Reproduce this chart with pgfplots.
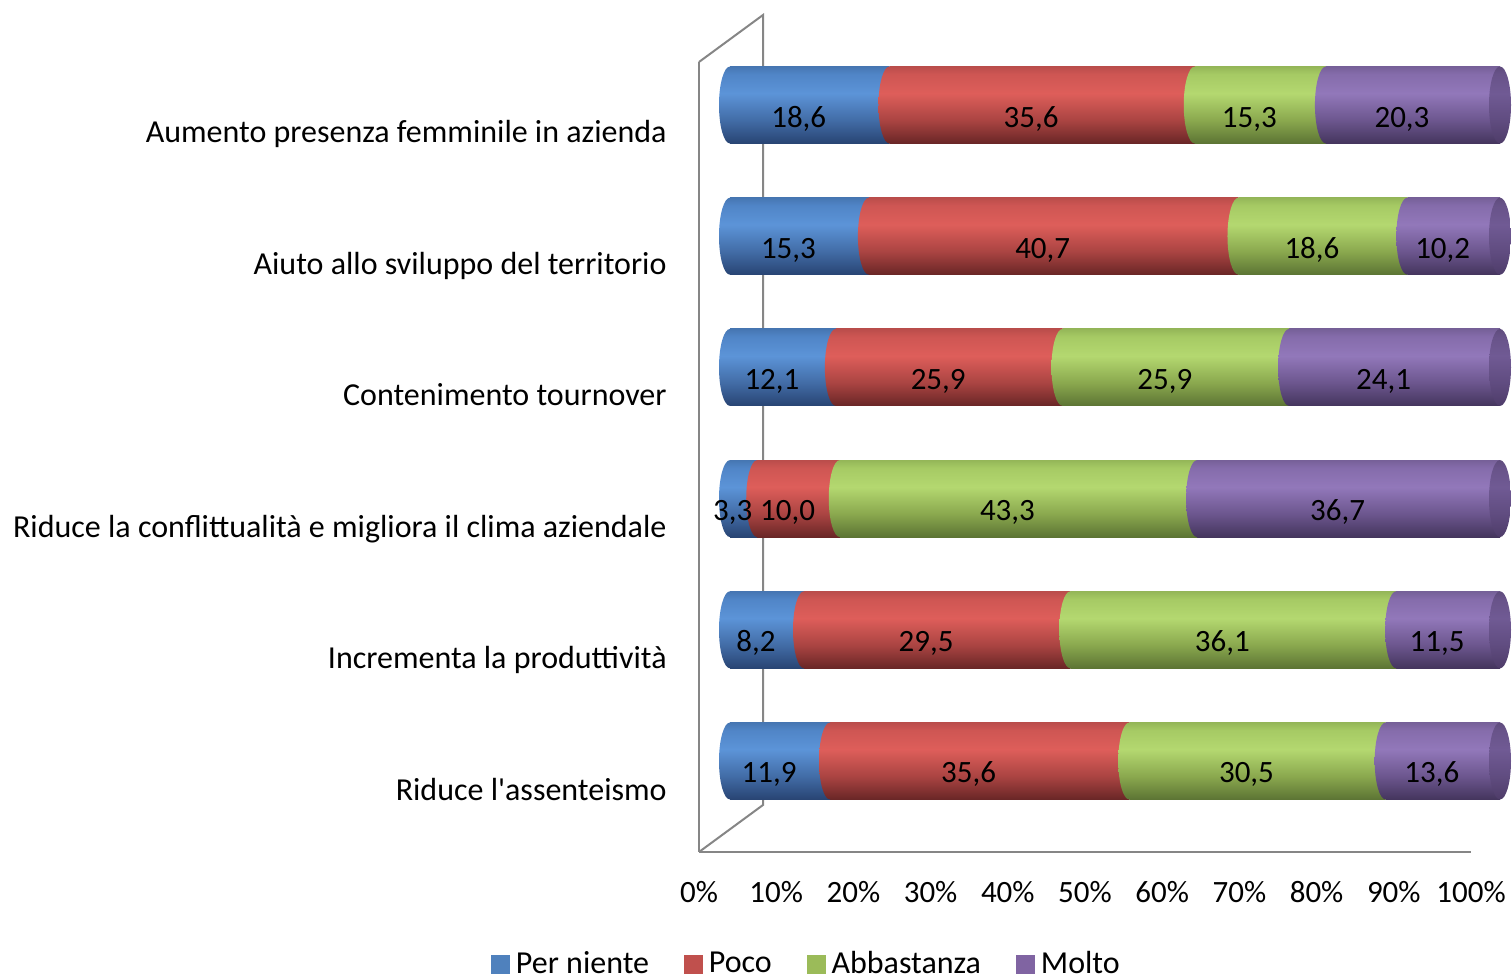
\documentclass[border=0pt]{standalone}
\usepackage{pgfplots}
\pgfplotsset{compat=1.18}
\usepackage{pgfplotstable}
\usetikzlibrary{shapes.geometric}
\usepackage{fontspec}
\setmainfont{Carlito}
\newcommand\cf{\fontsize{15.5pt}{18pt}\selectfont}
\newcommand\cfl{\fontsize{16pt}{19pt}\selectfont}

\definecolor{lBlue}{RGB}{79,129,189}
\definecolor{lRed}{RGB}{192,80,77}
\definecolor{lGreen}{RGB}{155,187,89}
\definecolor{lPurple}{RGB}{128,100,162}
\definecolor{frameGray}{RGB}{134,134,134}

\definecolor{B0}{RGB}{40,68,115}\definecolor{B1}{RGB}{66,108,166}\definecolor{B2}{RGB}{92,148,216}\definecolor{B3}{RGB}{80,133,199}\definecolor{B4}{RGB}{70,118,178}
\definecolor{R0}{RGB}{105,38,38}\definecolor{R1}{RGB}{170,68,66}\definecolor{R2}{RGB}{222,94,90}\definecolor{R3}{RGB}{206,86,83}\definecolor{R4}{RGB}{186,77,75}
\definecolor{G0}{RGB}{92,116,52}\definecolor{G1}{RGB}{138,168,78}\definecolor{G2}{RGB}{180,216,112}\definecolor{G3}{RGB}{166,202,100}\definecolor{G4}{RGB}{148,182,88}
\definecolor{P0}{RGB}{68,53,93}\definecolor{P1}{RGB}{108,86,142}\definecolor{P2}{RGB}{146,120,186}\definecolor{P3}{RGB}{133,108,171}\definecolor{P4}{RGB}{118,96,152}
\definecolor{C0}{RGB}{78,60,105}\definecolor{C1}{RGB}{96,76,128}\definecolor{C2}{RGB}{112,90,148}\definecolor{C3}{RGB}{104,83,137}\definecolor{C4}{RGB}{95,76,125}

\newcommand\cylshade[6]{\pgfdeclareverticalshading{#1}{100bp}{color(0bp)=(#2); color(25bp)=(#2); color(40bp)=(#3); color(57.5bp)=(#4); color(70bp)=(#5); color(75bp)=(#6); color(100bp)=(#6)}}
\cylshade{cylBlue}{B0}{B1}{B2}{B3}{B4}
\cylshade{cylRed}{R0}{R1}{R2}{R3}{R4}
\cylshade{cylGreen}{G0}{G1}{G2}{G3}{G4}
\cylshade{cylPurple}{P0}{P1}{P2}{P3}{P4}
\cylshade{cylCap}{C0}{C1}{C2}{C3}{C4}

% y: 0 = bottom row. Bar lengths = share of the row total (100% stacked); labels = values shown
\pgfplotstableread{
y z pn pnl po pol ab abl mo mol
0 0 12.991 11,9 38.865 35,6 33.297 30,5 14.847 13,6
1 0 9.613 8,2 34.584 29,5 42.321 36,1 13.482 11,5
2 0 3.537 3,3 10.718 10,0 46.409 43,3 39.335 36,7
3 0 13.750 12,1 29.432 25,9 29.432 25,9 27.386 24,1
4 0 18.042 15,3 47.995 40,7 21.934 18,6 12.028 10,2
5 0 20.713 18,6 39.644 35,6 17.038 15,3 22.606 20,3
}\data

\pgfplotsset{
  barax/.style={at={(365pt,76.7pt)}, anchor=south west, scale only axis,
    width=385pt, height=393.6pt,
    xmin=0, xmax=100, ymin=-0.5, ymax=5.5, hide axis, clip=false},
  cap/.style={draw=none, forget plot, nodes near coords={\relax},
    every node near coord/.style={ellipse, draw=none, shade, shading=#1,
      minimum width=11pt, minimum height=38.5pt, inner sep=0pt, anchor=center}},
  lab/.style={draw=none, forget plot, nodes near coords, point meta=explicit symbolic,
    every node near coord/.style={anchor=base, text=black, font=\cf, inner sep=0pt,
      xshift=-5.5pt, yshift=-11pt}},
}

\begin{document}
\begin{tikzpicture}[font=\cf]
% frame and tick labels
\begin{axis}[at={(349.5pt,64pt)}, anchor=south west, scale only axis,
  width=386pt, height=395pt,
  xmin=0, xmax=100, ymin=-0.5, ymax=5.5,
  axis lines*=left, axis line style={-, draw=frameGray, line width=1pt},
  major tick length=0pt,
  xtick={0,10,...,100},
  xticklabels={0\%,10\%,20\%,30\%,40\%,50\%,60\%,70\%,80\%,90\%,100\%},
  xticklabel style={anchor=base, yshift=-25.5pt, inner sep=0pt},
  ytick={0,1,2,3,4,5},
  yticklabels={Riduce l\textquotesingle assenteismo, Incrementa la produttività, Riduce la conflittualità e migliora il clima aziendale, Contenimento tournover, Aiuto allo sviluppo del territorio, Aumento presenza femminile in azienda},
  yticklabel style={anchor=base east, inner sep=0pt, xshift=-16pt, yshift=-7.25pt, font=\cfl},
]
\end{axis}
\draw[frameGray, line width=1pt] (349.5pt,459pt) -- (381.5pt,482.5pt) -- (381.5pt,87.5pt) -- (349.5pt,64pt);

% one stacked bar per row, so that each bar gets its own cylinder shading
\pgfplotsinvokeforeach{0,1,2,3,4,5}{
\begin{axis}[barax, xbar stacked, bar width=38.5pt, restrict y to domain=#1:#1]
\addplot[draw=none, shade, shading=cylBlue] table[x=pn, y=y] {\data};
\addplot[draw=none, shade, shading=cylRed] table[x=po, y=y] {\data};
\addplot[draw=none, shade, shading=cylGreen] table[x=ab, y=y] {\data};
\addplot[draw=none, shade, shading=cylPurple] table[x=mo, y=y] {\data};
\end{axis}
}

% rounded segment ends, value labels and legend
\begin{axis}[barax,
  legend columns=4,
  legend style={at={(0.098,-0.1745)}, anchor=center, draw=none, fill=none, font=\cfl,
    nodes={inner sep=0pt},
    /tikz/every odd column/.append style={column sep=3pt},
    /tikz/every even column/.append style={column sep=17.5pt}},
]
\addlegendimage{legend image code/.code={\fill[lBlue] (0pt,-4.5pt) rectangle (9pt,4.5pt);}}
\addlegendimage{legend image code/.code={\fill[lRed] (0pt,-4.5pt) rectangle (9pt,4.5pt);}}
\addlegendimage{legend image code/.code={\fill[lGreen] (0pt,-4.5pt) rectangle (9pt,4.5pt);}}
\addlegendimage{legend image code/.code={\fill[lPurple] (0pt,-4.5pt) rectangle (9pt,4.5pt);}}
\addplot[cap=cylBlue] table[x=z, y=y] {\data};
\addplot[cap=cylRed] table[x=pn, y=y] {\data};
\addplot[cap=cylGreen] table[x expr=\thisrow{pn}+\thisrow{po}, y=y] {\data};
\addplot[cap=cylPurple] table[x expr=\thisrow{pn}+\thisrow{po}+\thisrow{ab}, y=y] {\data};
\addplot[cap=cylCap] table[x expr=\thisrow{pn}+\thisrow{po}+\thisrow{ab}+\thisrow{mo}, y=y] {\data};
\addplot[lab] table[x expr=\thisrow{pn}/2, y=y, meta=pnl] {\data};
\addplot[lab] table[x expr=\thisrow{pn}+\thisrow{po}/2, y=y, meta=pol] {\data};
\addplot[lab] table[x expr=\thisrow{pn}+\thisrow{po}+\thisrow{ab}/2, y=y, meta=abl] {\data};
\addplot[lab] table[x expr=\thisrow{pn}+\thisrow{po}+\thisrow{ab}+\thisrow{mo}/2, y=y, meta=mol] {\data};
\legend{Per niente, Poco, Abbastanza, Molto}
\end{axis}
\pgfresetboundingbox
\useasboundingbox (0,0) rectangle (756pt,490pt);
\end{tikzpicture}
\end{document}
